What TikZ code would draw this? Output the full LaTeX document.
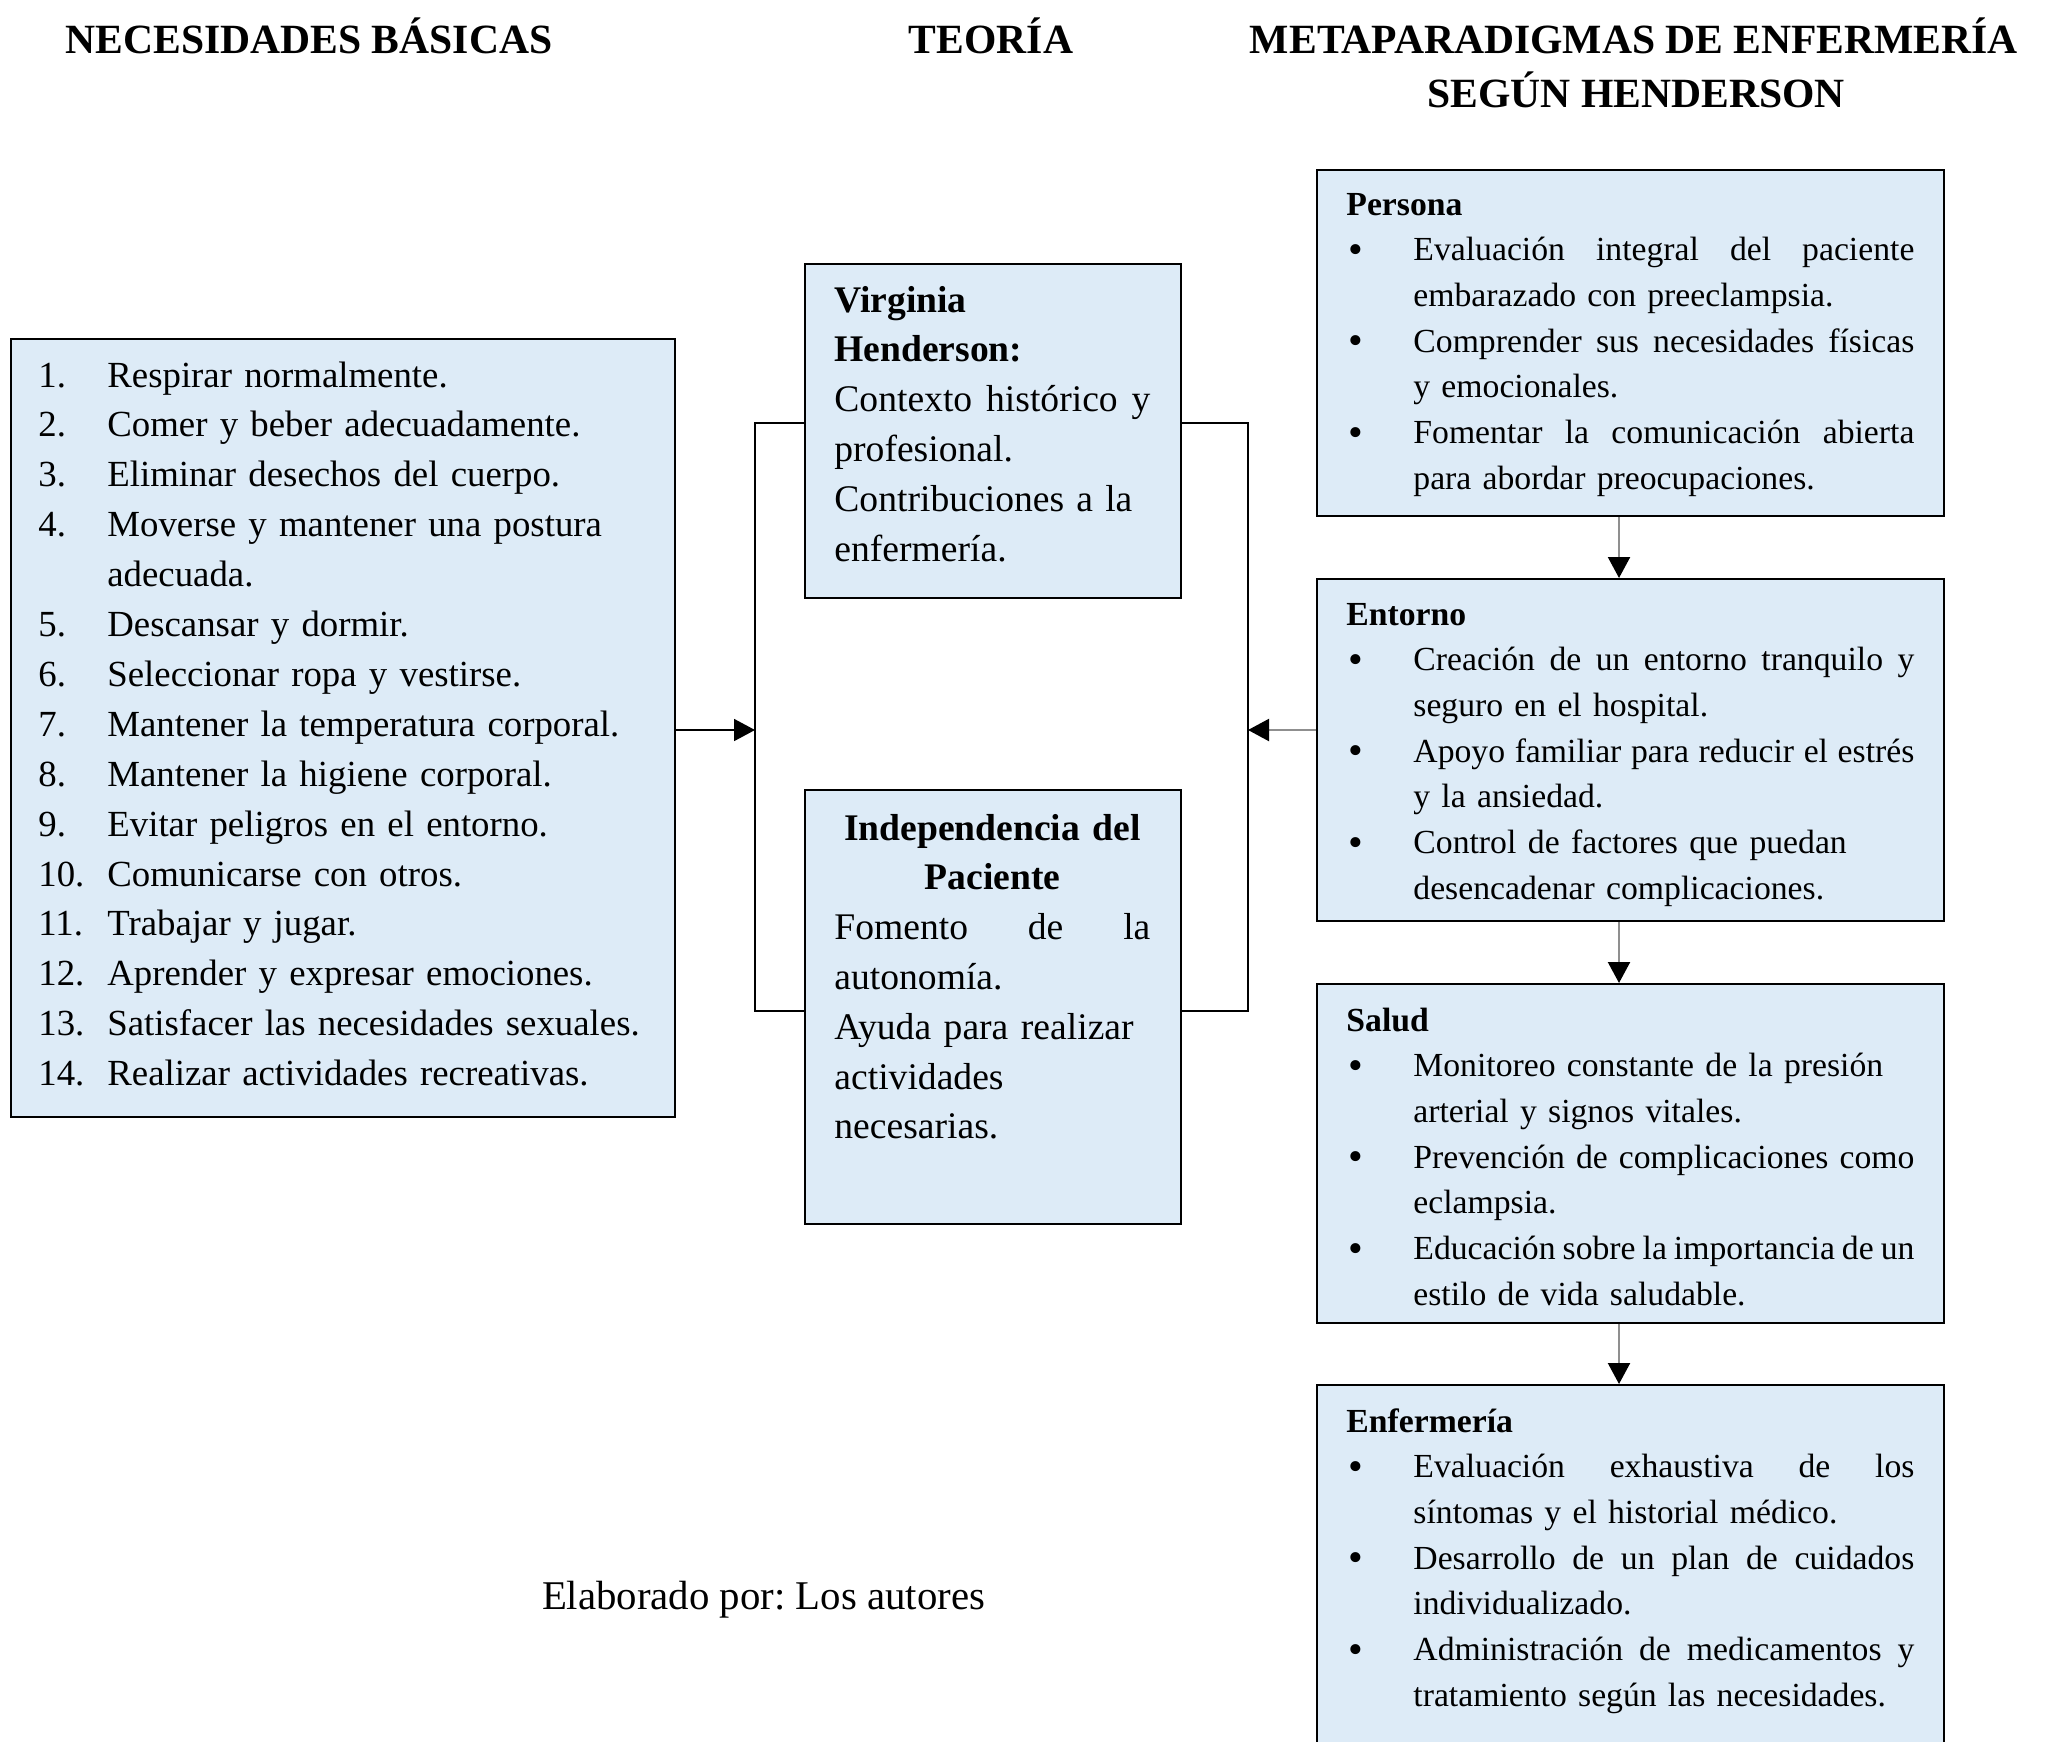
\documentclass[tikz,border=0pt]{standalone}
\usepackage{fontspec}
\setmainfont{Liberation Serif}
\usetikzlibrary{arrows.meta}
\definecolor{boxfill}{HTML}{DDEBF7}
\definecolor{graylink}{HTML}{8F8F8F}
\frenchspacing
\newcommand\jl[2]{\leavevmode\hbox to #1{#2}}
\newcommand\numl[2]{\makebox[34.5pt][l]{#1}#2}
\newcommand\numc[1]{\hspace*{34.5pt}#1}
\newcommand\bul{\makebox[33.5pt][l]{\hspace{1pt}\raisebox{-1.3pt}{\fontsize{21}{21}\selectfont\textbullet}}}
\newcommand\rbj[1]{\bul\jl{250.5pt}{#1}}
\newcommand\rbw[2]{\bul\jl{#1}{#2}}
\newcommand\rbn[1]{\bul#1}
\newcommand\rc[1]{\hspace*{33.5pt}#1}
\tikzset{
  box/.style={draw=black, line width=1pt, fill=boxfill, anchor=north west, inner sep=0pt},
  txt/.style={inner sep=0pt, anchor=base west, text width=320pt, align=left},
  bigtxt/.style={txt, font=\fontsize{18.8}{24.9}\selectfont},
  listtxt/.style={txt, font=\fontsize{18.4}{24.95}\selectfont},
  smalltxt/.style={txt, font=\fontsize{16.85}{22.85}\selectfont},
  head/.style={anchor=base, inner sep=0pt, font=\fontsize{20.8}{24}\selectfont\bfseries},
  link/.style={draw=black, line width=1pt},
  blackarrow/.style={draw=black, line width=0.9pt, -{Triangle[length=10.5pt,width=11pt,color=black]}},
  grayarrow/.style={draw=graylink, line width=1.1pt, -{Triangle[length=10.5pt,width=11pt,color=black]}}
}
\begin{document}
\begin{tikzpicture}[x=0.5pt, y=-0.5pt]
\clip (0,0) rectangle (2049,1741);
\fill[white] (0,0) rectangle (2049,1741);

% headings
\node[head] (h1) at (309,53) {NECESIDADES BÁSICAS};
\node[head] (h2) at (991,53) {TEORÍA};
\node[head] (h3) at (1634,53) {METAPARADIGMAS DE ENFERMERÍA};
\node[head] (h4) at (1636,107) {SEGÚN HENDERSON};

% boxes
\node[box, minimum width=332pt, minimum height=389pt] (left) at (10,338) {};
\node[box, minimum width=188pt, minimum height=167pt] (virg) at (804,263) {};
\node[box, minimum width=188pt, minimum height=217pt] (indep) at (804,789) {};
\node[box, minimum width=313.5pt, minimum height=173pt] (persona) at (1316,169) {};
\node[box, minimum width=313.5pt, minimum height=171pt] (entorno) at (1316,578) {};
\node[box, minimum width=313.5pt, minimum height=169.5pt] (salud) at (1316,983) {};
\node[box, minimum width=313.5pt, minimum height=200pt] (enferm) at (1316,1384) {};

% left list
\node[listtxt] (leftT) at (38,387) {%
\numl{1.}{Respirar normalmente.}\\
\numl{2.}{Comer y beber adecuadamente.}\\
\numl{3.}{Eliminar desechos del cuerpo.}\\
\numl{4.}{Moverse y mantener una postura}\\
\numc{adecuada.}\\
\numl{5.}{Descansar y dormir.}\\
\numl{6.}{Seleccionar ropa y vestirse.}\\
\numl{7.}{Mantener la temperatura corporal.}\\
\numl{8.}{Mantener la higiene corporal.}\\
\numl{9.}{Evitar peligros en el entorno.}\\
\numl{10.}{Comunicarse con otros.}\\
\numl{11.}{Trabajar y jugar.}\\
\numl{12.}{Aprender y expresar emociones.}\\
\numl{13.}{Satisfacer las necesidades sexuales.}\\
\numl{14.}{Realizar actividades recreativas.}};

% theory boxes
\node[bigtxt] (virgT) at (834,312) {%
\textbf{Virginia}\\
\textbf{Henderson:}\\
\jl{158pt}{Contexto\hfill histórico\hfill y}\\
profesional.\\
\jl{149pt}{Contribuciones\hfill a\hfill la}\\
enfermería.};

\node[bigtxt] (indepT) at (834,840) {%
\makebox[158pt][c]{\textbf{Independencia del}}\\
\makebox[158pt][c]{\textbf{Paciente}}\\
\jl{158pt}{Fomento\hfill de\hfill la}\\
autonomía.\\
Ayuda para realizar\\
actividades\\
necesarias.};

% metaparadigm boxes
\node[smalltxt] (personaT) at (1346,215) {%
\textbf{Persona}\\
\rbj{Evaluación\hfill integral\hfill del\hfill paciente}\\
\rc{embarazado con preeclampsia.}\\
\rbj{Comprender\hfill sus\hfill necesidades\hfill físicas}\\
\rc{y emocionales.}\\
\rbj{Fomentar\hfill la\hfill comunicación\hfill abierta}\\
\rc{para abordar preocupaciones.}};

\node[smalltxt] (entornoT) at (1346,625) {%
\textbf{Entorno}\\
\rbj{Creación\hfill de\hfill un\hfill entorno\hfill tranquilo\hfill y}\\
\rc{seguro en el hospital.}\\
\rbj{Apoyo\hfill familiar\hfill para\hfill reducir\hfill el\hfill estrés}\\
\rc{y la ansiedad.}\\
\rbw{216.7pt}{Control\hfill de\hfill factores\hfill que\hfill puedan}\\
\rc{desencadenar complicaciones.}};

\node[smalltxt] (saludT) at (1346,1031) {%
\textbf{Salud}\\
\rbn{Monitoreo constante de la presión}\\
\rc{arterial y signos vitales.}\\
\rbj{Prevención\hfill de\hfill complicaciones\hfill como}\\
\rc{eclampsia.}\\
\rbj{Educación\hfill sobre\hfill la\hfill importancia\hfill de\hfill un}\\
\rc{estilo de vida saludable.}};

\node[smalltxt] (enfermT) at (1346,1432) {%
\textbf{Enfermería}\\
\rbj{Evaluación\hfill exhaustiva\hfill de\hfill los}\\
\rc{síntomas y el historial médico.}\\
\rbj{Desarrollo\hfill de\hfill un\hfill plan\hfill de\hfill cuidados}\\
\rc{individualizado.}\\
\rbj{Administración\hfill de\hfill medicamentos\hfill y}\\
\rc{tratamiento según las necesidades.}};

% credit
\node[anchor=base, inner sep=0pt, font=\fontsize{20.4}{24}\selectfont] (credit) at (763.5,1609) {Elaborado por: Los autores};

% connectors
\coordinate (jl) at (755,730);
\coordinate (jr) at (1248,730);
\draw[link] ([yshift=4pt]virg.west) -| (jl) |- ([yshift=-2pt]indep.west);
\draw[link] ([yshift=4pt]virg.east) -| (jr) |- ([yshift=-2pt]indep.east);
\draw[blackarrow] (left.east |- jl) -- (jl);
\draw[grayarrow] (entorno.west |- jr) -- (jr);
\draw[grayarrow] ([xshift=-5.75pt]persona.south) -- ([xshift=-5.75pt]entorno.north);
\draw[grayarrow] ([xshift=-5.75pt]entorno.south) -- ([xshift=-5.75pt]salud.north);
\draw[grayarrow] ([xshift=-5.75pt]salud.south) -- ([xshift=-5.75pt]enferm.north);
\end{tikzpicture}
\end{document}
